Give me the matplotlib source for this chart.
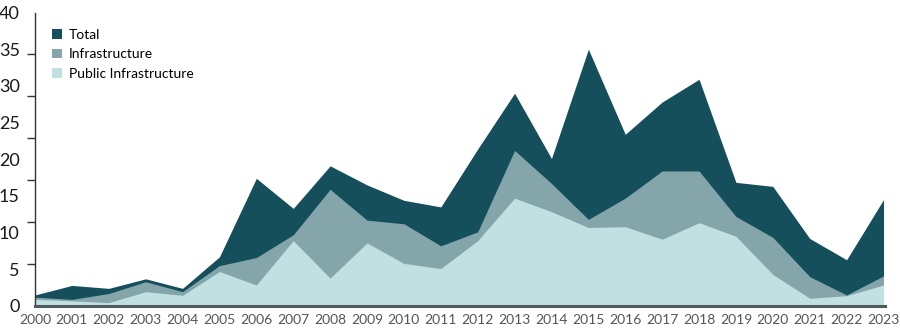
#!/usr/bin/env python3
# -*- coding: utf-8 -*-

"""
Area chart: Total, Infrastructure and Public Infrastructure, 2000-2023.
The three series are overlaid (not stacked), the largest drawn first.
"""

import numpy as np
import matplotlib
matplotlib.use("Agg")
import matplotlib.pyplot as plt
from matplotlib.patches import Patch

# Dati
YEARS = list(range(2000, 2024))
TOTAL = [1.5, 2.8, 2.4, 3.7, 2.4, 6.7, 17.4, 13.3, 19.1, 16.5, 14.4, 13.5,
         21.4, 29.0, 20.1, 35.0, 23.4, 27.8, 30.9, 16.85, 16.3, 9.2, 6.3, 14.5]
INFRASTRUCTURE = [1.2, 0.9, 1.7, 3.3, 1.95, 5.5, 6.6, 9.7, 15.9, 11.7, 11.2, 8.2,
                  10.1, 21.2, 16.7, 11.8, 14.7, 18.4, 18.4, 12.2, 9.35, 4.0, 1.5, 4.1]
PUBLIC_INFRASTRUCTURE = [0.9, 0.7, 0.45, 1.95, 1.45, 4.7, 2.86, 8.9, 3.8, 8.6, 5.8, 5.1,
                         8.9, 14.7, 12.85, 10.7, 10.8, 9.1, 11.35, 9.5, 4.3, 1.05, 1.4, 2.86]
SERIES_LABELS = ["Total", "Infrastructure", "Public Infrastructure"]
Y_LABELS = [0, 5, 10, 15, 20, 25, 30, 35, 40]

# Colori
COLORS = ["#154f5c", "#84a5aa", "#c1e0e2"]
FONT = "Lato"


def draw_chart():
    fig = plt.figure(figsize=(9, 3.29), dpi=100)
    ax = fig.add_axes([0.0389, 0.070, 0.944, 0.892])

    series = [TOTAL, INFRASTRUCTURE, PUBLIC_INFRASTRUCTURE]
    for values, color in zip(series, COLORS):
        ax.fill_between(YEARS, 0, values, color=color, linewidth=0)

    ax.set_xlim(YEARS[0], YEARS[-1] + 0.03)
    ax.set_ylim(0, 40)

    # etichette asse y (senza tacche) + tacche separate a 7 intervalli
    ax.set_yticks(Y_LABELS)
    ax.set_yticklabels([str(v) for v in Y_LABELS], fontsize=13,
                       color="#1a1a1a", family=FONT)
    ax.set_yticks(np.linspace(0, 40, 8), minor=True)
    ax.tick_params(axis="y", which="major", length=0, pad=11)
    ax.tick_params(axis="y", which="minor", length=6, width=1, color="#333333")

    ax.set_xticks(YEARS)
    ax.set_xticklabels([str(y) for y in YEARS], fontsize=10,
                       color="#555555", family=FONT)
    ax.tick_params(axis="x", length=0, pad=6)

    for side in ["top", "right"]:
        ax.spines[side].set_visible(False)
    ax.spines["left"].set_color("#333333")
    ax.spines["left"].set_linewidth(1)
    ax.spines["bottom"].set_color("#4d5b5d")
    ax.spines["bottom"].set_linewidth(2.2)

    handles = [Patch(facecolor=c, edgecolor="none") for c in COLORS]
    ax.legend(handles, SERIES_LABELS, loc="upper left",
              bbox_to_anchor=(0.02, 0.945), frameon=False, borderpad=0,
              borderaxespad=0, handlelength=0.7, handleheight=0.7,
              handletextpad=0.5, labelspacing=0.55,
              prop={"family": FONT, "size": 10})

    fig.savefig("out.png", dpi=100)


def main():
    draw_chart()


if __name__ == "__main__":
    main()
